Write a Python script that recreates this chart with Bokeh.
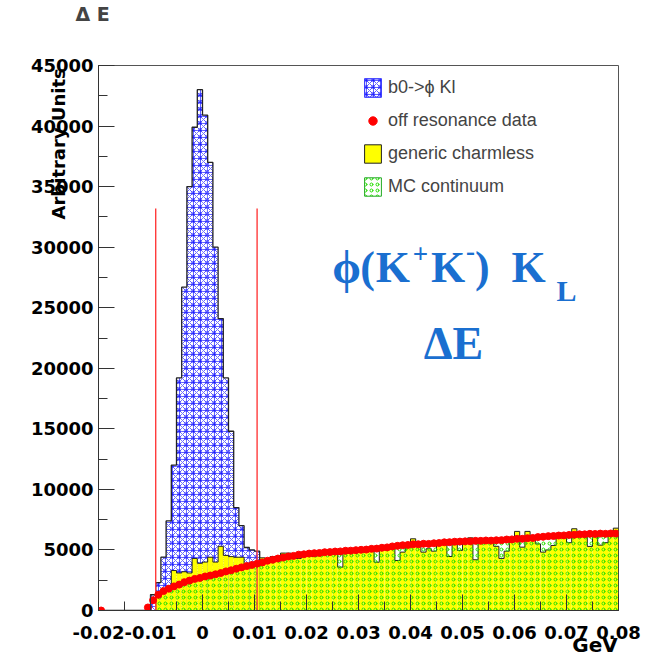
import numpy as np
from bokeh.plotting import figure
from bokeh.models import (Range1d, SingleIntervalTicker, CustomJSTickFormatter, Label,
                          Legend, LegendItem, ColumnDataSource, Title)
from bokeh.embed import file_html
from bokeh.resources import INLINE

nan = float("nan")

# ---- binning (Delta E in GeV) ----
x_lo, x_hi, n_bins = -0.02, 0.08, 100
edges = np.round(np.linspace(x_lo, x_hi, n_bins + 1), 4)
centers = (edges[:-1] + edges[1:]) / 2

# ---- b0 -> phi KL (drawn as the total, blue hatched) ----
signal_total = [0] * 10 + [1300, 2300, 4400, 7400, 12000, 19200, 26700, 35000, 39900, 43000,
                           40900, 37000, 30000, 24100, 19200, 14800, 8500, 7000, 5200, 5000,
                           4900] + [0] * 69

# ---- MC continuum (green hatched) ----
mc_continuum = [0] * 11 + [1150, 1480, 1700, 1880, 2030, 2220, 2350, 2480, 2580,
    2680, 2780, 2870, 2980, 3100, 3200, 3330, 3440, 3540, 3650,
    3750, 3860, 3990, 4070, 4180, 4250, 4350, 4400, 4490, 4530,
    4580, 4620, 4640, 4700, 4700, 4760, 4770, 4820, 4820, 4870,
    4890, 4920, 4980, 5000, 5060, 5100, 5180, 5220, 5280, 5300,
    5340, 5360, 5390, 5390, 5440, 5450, 5520, 5520, 5560, 5580,
    5590, 5600, 5640, 5640, 5660, 5660, 5690, 5700, 5740, 5760,
    5800, 5810, 5850, 5880, 5940, 5980, 6020, 6040, 6080, 6090,
    6120, 6140, 6170, 6180, 6210, 6210, 6240, 6220, 6250, 6240]

# ---- generic charmless (yellow) ----
generic_charmless = [0] * 11 + [1150, 1480, 1700, 3300, 3100, 3200, 3100, 4300, 3900,
    4000, 4400, 4000, 5300, 4550, 4450, 4400, 4400, 3600, 3700,
    3800, 4350, 3990, 4460, 4180, 4740, 4740, 4400, 4300, 4530,
    4580, 4450, 4640, 4700, 4700, 4760, 3580, 4820, 4820, 4870,
    4890, 4920, 4980, 3990, 5060, 5100, 5180, 4130, 4820, 5300,
    5920, 5360, 4820, 5100, 4900, 5450, 5520, 4460, 5560, 4960,
    5590, 6000, 4190, 5640, 5660, 5660, 5300, 4300, 4900, 5760,
    6530, 5230, 6530, 5880, 5500, 4820, 5000, 5370, 6080, 6090,
    5600, 6750, 6170, 6180, 5290, 6210, 5400, 5600, 6250, 6800]

# ---- off resonance data (red points) ----
off_resonance = [0.0] + [nan] * 8 + [250,
    850, 1300, 1600, 1800, 1990, 2140, 2340, 2470, 2610, 2690,
    2810, 2890, 2990, 3090, 3230, 3320, 3450, 3560, 3670, 3760,
    3870, 3970, 4110, 4190, 4290, 4370, 4460, 4510, 4610, 4640,
    4700, 4730, 4750, 4810, 4820, 4870, 4880, 4930, 4940, 4980,
    5010, 5030, 5090, 5110, 5180, 5210, 5290, 5340, 5390, 5410,
    5460, 5470, 5510, 5500, 5550, 5570, 5630, 5640, 5680, 5690,
    5710, 5710, 5750, 5750, 5780, 5770, 5800, 5810, 5860, 5870,
    5920, 5920, 5970, 5990, 6060, 6090, 6140, 6150, 6190, 6200,
    6240, 6250, 6290, 6290, 6330, 6320, 6350, 6330, 6360, 6350]

# ---- signal-region cut lines ----
cut_positions = [-0.009, 0.0105]
cut_height = 33200

W, H = 653, 661
p = figure(width=W, height=H, output_backend="svg", toolbar_location=None,
           x_range=Range1d(x_lo, x_hi), y_range=Range1d(0, 45000),
           min_border_left=98, min_border_right=35, min_border_top=65, min_border_bottom=51)
p.background_fill_color = "white"
p.border_fill_color = "white"
p.outline_line_color = "#555555"
p.outline_line_width = 1
p.xgrid.visible = False
p.ygrid.visible = False

FS = "\u2007"  # figure space (used as spacing)

# real title (outer) + spacer title (inner, next to the frame)
p.title.text = "\u0394 E"
p.title.align = "left"
p.title.offset = -23
p.title.standoff = 0
p.title.vertical_align = "top"
p.title.text_font = "DejaVu Sans"
p.title.text_font_style = "bold"
p.title.text_font_size = "19px"
p.add_layout(Title(text=FS, standoff=15, text_font="DejaVu Sans",
                   text_font_size="19px"), "above")


def step_xy(vals):
    xs, ys = [edges[0]], [0]
    for i, v in enumerate(vals):
        xs += [edges[i], edges[i + 1]]
        ys += [v, v]
    xs.append(edges[-1]); ys.append(0)
    return xs, ys


src = ColumnDataSource(dict(left=edges[:-1], right=edges[1:],
                            sig=signal_total, cont=mc_continuum, gen=generic_charmless))

SIG_RING = dict(hatch_pattern="ring", hatch_color="#8c8cff", hatch_scale=7, hatch_weight=1)
SIG_STAR = dict(hatch_pattern="criss_cross", hatch_color="#1010ff", hatch_scale=7,
                hatch_weight=0.7, hatch_alpha=0.95)
CONT_RING = dict(hatch_pattern="ring", hatch_color="#22dd00", hatch_scale=6, hatch_weight=1)

# signal (blue hatched)
p.quad(left="left", right="right", bottom=0, top="sig", source=src,
       fill_color="white", line_alpha=0, **SIG_RING)
p.quad(left="left", right="right", bottom=0, top="sig", source=src,
       fill_alpha=0, line_alpha=0, **SIG_STAR)
sx, sy = step_xy(signal_total)
p.line(sx, sy, line_color="#222222", line_width=1.3)

# generic charmless (yellow)
p.quad(left="left", right="right", bottom=0, top="gen", source=src,
       fill_color="#ffff00", line_alpha=0)
gx, gy = step_xy(generic_charmless)
p.line(gx, gy, line_color="#222222", line_width=1.0)

# MC continuum (green hatched, transparent)
p.quad(left="left", right="right", bottom=0, top="cont", source=src,
       fill_alpha=0, line_alpha=0, **CONT_RING)
cx, cy = step_xy(mc_continuum)
p.line(cx, cy, line_color="#444444", line_width=0.8)

# cut lines
p.segment(x0=cut_positions, y0=[0, 0], x1=cut_positions, y1=[cut_height, cut_height],
          line_color="#ff3b3b", line_width=1.4)

# data points
dsrc = ColumnDataSource(dict(x=centers, y=off_resonance))
dots = p.scatter("x", "y", source=dsrc, size=7, marker="circle",
                 fill_color="#ff0000", line_color="#ff0000")

# legend-only renderers (NaN data, nothing drawn in the plot)
nsrc = ColumnDataSource(dict(left=[nan], right=[nan], top=[nan], bottom=[nan]))
lg_sig1 = p.quad(left="left", right="right", bottom="bottom", top="top", source=nsrc,
                 fill_color="white", line_color="#4040ff", **SIG_RING)
lg_sig2 = p.quad(left="left", right="right", bottom="bottom", top="top", source=nsrc,
                 fill_alpha=0, line_color="#4040ff", **SIG_STAR)
lg_gen = p.quad(left="left", right="right", bottom="bottom", top="top", source=nsrc,
                fill_color="#ffff00", line_color="#222222")
lg_cont = p.quad(left="left", right="right", bottom="bottom", top="top", source=nsrc,
                 fill_color="white", line_color="#22aa22", **CONT_RING)

legend = Legend(items=[
    LegendItem(label="b0->\u03d5 Kl", renderers=[lg_sig1, lg_sig2]),
    LegendItem(label="off resonance data", renderers=[dots]),
    LegendItem(label="generic charmless", renderers=[lg_gen]),
    LegendItem(label="MC continuum", renderers=[lg_cont]),
], location=(254, 402), glyph_width=21, glyph_height=23, spacing=10, padding=10,
    label_standoff=5, label_text_font="Liberation Sans", label_text_font_size="18px",
    label_height=23,
    border_line_alpha=0, background_fill_color="white", background_fill_alpha=1, margin=0)
p.add_layout(legend)

# axes
for ax in (p.xaxis[0], p.yaxis[0]):
    ax.major_tick_in = 16
    ax.major_tick_out = 0
    ax.minor_tick_in = 9
    ax.minor_tick_out = 0
    ax.axis_line_color = "#333333"
    ax.major_tick_line_color = "#333333"
    ax.minor_tick_line_color = "#333333"
    ax.major_label_text_font = "DejaVu Sans"
    ax.major_label_text_font_style = "bold"
    ax.major_label_text_font_size = "18px"
    ax.major_label_text_color = "black"
    ax.axis_label_text_font = "DejaVu Sans"
    ax.axis_label_text_font_style = "bold"
    ax.axis_label_text_color = "black"

p.xaxis.ticker = SingleIntervalTicker(interval=0.01, num_minor_ticks=2)
p.yaxis.ticker = SingleIntervalTicker(interval=5000, num_minor_ticks=2)
p.xaxis.formatter = CustomJSTickFormatter(
    code="return Math.abs(tick) < 1e-9 ? '0' : tick.toFixed(2);")
p.xaxis.major_label_standoff = 15
p.yaxis.major_label_standoff = 5

# axis titles sit at the far end of their axes (ROOT style): figure-space padding
p.xaxis.axis_label = FS * 34 + "GeV"
p.xaxis.axis_label_text_font_size = "20px"
p.xaxis.axis_label_standoff = -9
p.yaxis.axis_label = FS * 31 + "Arbitrary Units"
p.yaxis.axis_label_text_font_size = "18px"
p.yaxis.axis_label_standoff = -41


# big annotation texts (inside the frame)
def lab(x, y, t, size, color="#1a6fd0", font="Liberation Serif"):
    p.add_layout(Label(x=x, y=y, text=t, text_font=font, text_font_style="bold",
                       text_font_size=size, text_color=color, text_align="center",
                       text_baseline="alphabetic"))

lab(0.02769, 28350, "\u03d5", "46px")
lab(0.03173, 28350, "(", "44px")
lab(0.03663, 28350, "K", "44px")
lab(0.04192, 29450, "+", "27px")
lab(0.04721, 28350, "K", "44px")
lab(0.05154, 29650, "-", "27px")
lab(0.05379, 28350, ")", "44px")
lab(0.06269, 28350, "K", "44px")
lab(0.07000, 26400, "L", "30px")
lab(0.04827, 22070, "\u0394E", "46px")

open("out.html", "w").write(file_html(p, INLINE))
